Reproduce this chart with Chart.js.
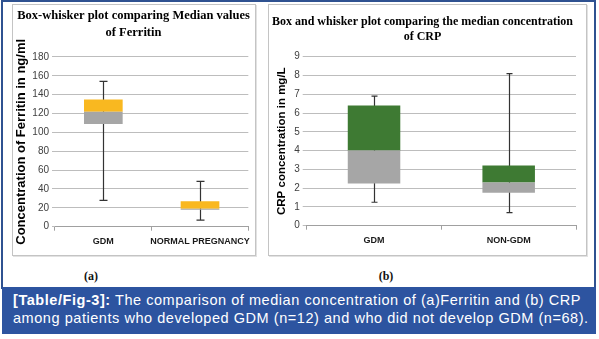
<!DOCTYPE html>
<html>
<head>
<meta charset="utf-8">
<title>Ferritin and CRP box plots</title>
<script src="https://cdn.jsdelivr.net/npm/chart.js@4.4.0/dist/chart.umd.min.js"></script>
<style>
  body { margin:0; width:599px; height:339px; position:relative; overflow:hidden; background:#fff; }
  #frame { position:absolute; left:1px; top:0; width:591px; height:287px; border:2px solid #2f5291; border-bottom:none; }
  .panel { position:absolute; border:1px solid #c4c4c4; box-shadow:1px 1px 0 #e2e2e2; background:#fff; }
  .panel canvas { display:block; }
  #panelA { left:12px; top:4px; width:242px; height:250px; }
  #panelB { left:268px; top:4px; width:317px; height:250px; }
  .sub { position:absolute; top:269px; width:40px; text-align:center; font:bold 12px "Liberation Serif", serif; color:#111; }
  #caption { position:absolute; left:2px; top:287px; width:594px; height:47px; padding:4px 0 0 11px; background:#2d54a0; color:#fff;
             font:14.5px "Liberation Sans", Arial, sans-serif; letter-spacing:0.55px; line-height:18px; box-sizing:border-box; white-space:nowrap; }
</style>
</head>
<body>
<div id="frame"></div>
<div class="panel" id="panelA"><canvas id="ferritinChart" width="242" height="250"></canvas></div>
<div class="panel" id="panelB"><canvas id="crpChart" width="317" height="250"></canvas></div>
<div class="sub" style="left:71px">(a)</div>
<div class="sub" style="left:366px">(b)</div>
<div id="caption"><b>[Table/Fig-3]:</b> The comparison of median concentration of (a)Ferritin and (b) CRP<br>among patients who developed GDM (n=12) and who did not develop GDM (n=68).</div>

<script>
// Ferritin (ng/ml)
const ferritinGroups = ['GDM', 'NORMAL PREGNANCY'];
const ferritinMin = [28, 7];
const ferritinQ1 = [109, 18];
const ferritinMedian = [122, 19];
const ferritinQ3 = [135, 27];
const ferritinMax = [154, 48];
const ferritinTicks = [0, 20, 40, 60, 80, 100, 120, 140, 160, 180];

// CRP
const crpGroups = ['GDM', 'NON-GDM'];
const crpMin = [1.25, 0.7];
const crpQ1 = [2.25, 1.75];
const crpMedian = [4.0, 2.3];
const crpQ3 = [6.4, 3.2];
const crpMax = [6.9, 8.1];
const crpTicks = [0, 1, 2, 3, 4, 5, 6, 7, 8, 9];

const GREY = '#a6a6a6';
const tickFont = { family: '"Liberation Sans Narrow", "Liberation Sans", Arial, sans-serif', size: 10 };
const catFont = { family: '"Liberation Sans Narrow", "Liberation Sans", Arial, sans-serif', size: 9, weight: '600' };

// whisker lines + caps, drawn under the boxes so the line stops at the box edges
const whiskers = {
  id: 'whiskers',
  beforeDatasetsDraw(chart, args, opts) {
    const { ctx, scales: { x, y } } = chart;
    ctx.save();
    ctx.strokeStyle = '#333';
    ctx.lineWidth = 1.2;
    opts.low.forEach((lo, i) => {
      const px = Math.round(x.getPixelForValue(i)) + 0.5;
      const yLo = y.getPixelForValue(lo);
      const yHi = y.getPixelForValue(opts.high[i]);
      const c = opts.cap / 2;
      ctx.beginPath();
      ctx.moveTo(px, yLo); ctx.lineTo(px, yHi);
      ctx.moveTo(px - c, yLo); ctx.lineTo(px + c, yLo);
      ctx.moveTo(px - c, yHi); ctx.lineTo(px + c, yHi);
      ctx.stroke();
    });
    ctx.restore();
  }
};

function boxPlot(canvasId, cfg) {
  return new Chart(document.getElementById(canvasId), {
    type: 'bar',
    data: {
      labels: cfg.labels,
      datasets: [
        { data: cfg.q1.map((v, i) => [v, cfg.median[i]]), backgroundColor: GREY },
        { data: cfg.median.map((v, i) => [v, cfg.q3[i]]), backgroundColor: cfg.color }
      ]
    },
    options: {
      responsive: false,
      animation: false,
      devicePixelRatio: 1,
      layout: { padding: { left: 0, right: cfg.padRight, top: 0, bottom: 0 } },
      datasets: { bar: { grouped: false, categoryPercentage: 1, barPercentage: cfg.barWidth } },
      plugins: {
        legend: { display: false },
        tooltip: { enabled: false },
        title: {
          display: true,
          text: cfg.title,
          color: '#000',
          font: { family: '"Liberation Serif", "Times New Roman", serif', weight: 'bold', size: cfg.titleSize, lineHeight: cfg.titleLine },
          padding: cfg.titlePad
        },
        whiskers: { low: cfg.min, high: cfg.max, cap: cfg.cap }
      },
      scales: {
        x: {
          grid: { drawOnChartArea: false, offset: true, tickLength: 4, color: '#a0a0a0' },
          border: { color: '#a0a0a0' },
          ticks: { font: catFont, color: '#1a1a1a', padding: 5, maxRotation: 0, autoSkip: false },
          afterFit: s => { s.height = cfg.xHeight; }
        },
        y: {
          min: cfg.ticks[0],
          max: cfg.ticks[cfg.ticks.length - 1],
          afterBuildTicks: s => { s.ticks = cfg.ticks.map(v => ({ value: v })); },
          grid: { color: '#bdbdbd', tickLength: cfg.tickLen },
          border: { display: false },
          ticks: { font: tickFont, color: '#404040', padding: 3 },
          title: {
            display: true,
            text: cfg.yTitle,
            color: '#000',
            font: { family: '"Liberation Sans Narrow", "Liberation Sans", Arial, sans-serif', weight: 'bold', size: cfg.yTitleSize },
            padding: { top: cfg.yTitlePad, bottom: 0 }
          },
          afterFit: s => { s.width = cfg.yWidth; }
        }
      }
    },
    plugins: [whiskers]
  });
}

boxPlot('ferritinChart', {
  labels: ferritinGroups, min: ferritinMin, q1: ferritinQ1, median: ferritinMedian, q3: ferritinQ3, max: ferritinMax,
  ticks: ferritinTicks, color: '#f9b820', barWidth: 0.40, cap: 8,
  title: ['Box-whisker plot comparing Median values', 'of Ferritin'], titleSize: 12.5, titleLine: 1.35,
  titlePad: { top: 2.6, bottom: 15.6 },
  yTitle: 'Concentration of Ferritin in ng/ml', yTitleSize: 13, yTitlePad: 1,
  yWidth: 42, xHeight: 28.3, padRight: 1, tickLen: 3
});

boxPlot('crpChart', {
  labels: crpGroups, min: crpMin, q1: crpQ1, median: crpMedian, q3: crpQ3, max: crpMax,
  ticks: crpTicks, color: '#3e7a33', barWidth: 0.39, cap: 6,
  title: ['Box and whisker plot comparing the median concentration', 'of CRP'], titleSize: 12, titleLine: 1.3,
  titlePad: { top: 8.9, bottom: 11.6 },
  yTitle: 'CRP concentration in mg/L', yTitleSize: 11.5, yTitlePad: 6,
  yWidth: 37.7, xHeight: 29.3, padRight: 10, tickLen: 4
});
</script>
</body>
</html>
